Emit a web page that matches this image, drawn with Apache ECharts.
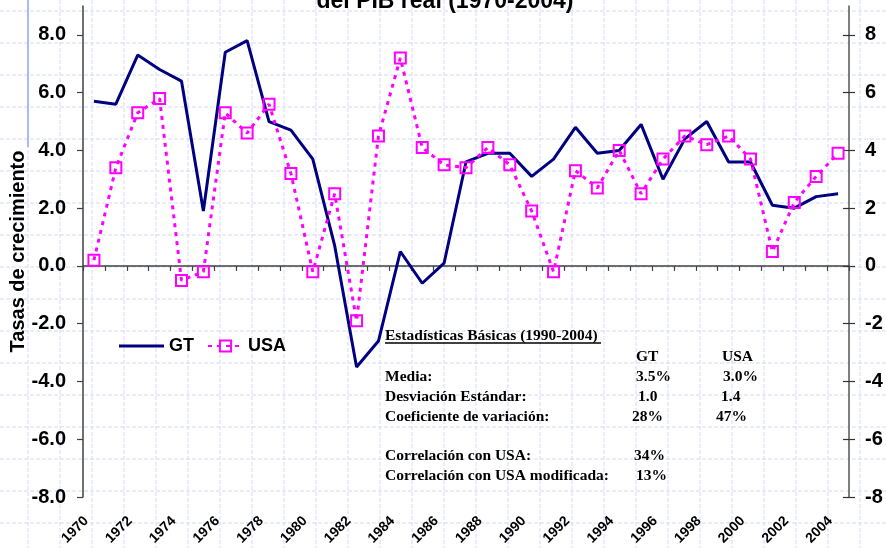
<!DOCTYPE html>
<html><head><meta charset="utf-8">
<script src="https://cdn.jsdelivr.net/npm/echarts@6/dist/echarts.min.js"></script>
<style>html,body{margin:0;padding:0;background:#fff}#c{width:886px;height:548px}</style>
</head><body><div id="c"></div>
<script>
const years = ['1970','1971','1972','1973','1974','1975','1976','1977','1978','1979','1980','1981','1982','1983','1984','1985','1986','1987','1988','1989','1990','1991','1992','1993','1994','1995','1996','1997','1998','1999','2000','2001','2002','2003','2004'];
const gt = [5.7, 5.6, 7.3, 6.8, 6.4, 1.9, 7.4, 7.8, 5.0, 4.7, 3.7, 0.7, -3.5, -2.6, 0.5, -0.6, 0.1, 3.6, 3.9, 3.9, 3.1, 3.7, 4.8, 3.9, 4.0, 4.9, 3.0, 4.4, 5.0, 3.6, 3.6, 2.1, 2.0, 2.4, 2.5];
const usa = [0.2, 3.4, 5.3, 5.8, -0.5, -0.2, 5.3, 4.6, 5.6, 3.2, -0.2, 2.5, -1.9, 4.5, 7.2, 4.1, 3.5, 3.4, 4.1, 3.5, 1.9, -0.2, 3.3, 2.7, 4.0, 2.5, 3.7, 4.5, 4.2, 4.5, 3.7, 0.5, 2.2, 3.1, 3.9];
const yTicks = [-8, -6, -4, -2, 0, 2, 4, 6, 8];
const titleText = 'del PIB real (1970-2004)';
const yName = 'Tasas de crecimiento';
const statsTitle = 'Estadísticas Básicas (1990-2004)';
const statHeaders = ['GT', 'USA'];
const statRows = ['Media:', 'Desviación Estándar:', 'Coeficiente de variación:', '', 'Correlación con USA:', 'Correlación con USA modificada:'];
const statGT = ['3.5%', '1.0', '28%', '', '34%', '13%'];
const statUSA = ['3.0%', '1.4', '47%', '', '', ''];

const W = 886, H = 548;
const graphics = [];
// graph-paper background
for (let x = 28; x <= W; x += 32) {
  graphics.push({type:'line', z:-10, silent:true, shape:{x1:x, y1:0, x2:x, y2:H}, style:{stroke:'#d3daf6', lineWidth:1, lineDash:[4,2]}});
}
for (let y = 11; y <= H; y += 32) {
  graphics.push({type:'line', z:-10, silent:true, shape:{x1:0, y1:y, x2:W, y2:y}, style:{stroke:'#d3daf6', lineWidth:1, lineDash:[4,2]}});
}
graphics.push({type:'line', z:-9, silent:true, shape:{x1:28, y1:0, x2:28, y2:147}, style:{stroke:'#a9b9f2', lineWidth:2}});
// title (second line, partly cut)
graphics.push({type:'text', z:10, x:445, y:2, style:{text:titleText, fontSize:23, fontWeight:'bold', fontFamily:'Arial, Liberation Sans', fill:'#000', align:'center', verticalAlign:'middle'}});
// stats box
const serif = {fontSize:15.5, fontWeight:'bold', fontFamily:'Times New Roman, Liberation Serif', fill:'#000', verticalAlign:'middle', align:'left'};
graphics.push({type:'text', z:10, x:385, y:336, style:Object.assign({text:statsTitle}, serif)});
graphics.push({type:'line', z:10, shape:{x1:385, y1:343, x2:601, y2:343}, style:{stroke:'#000', lineWidth:1.3}});
graphics.push({type:'text', z:10, x:636, y:356.5, style:Object.assign({text:statHeaders[0]}, serif)});
graphics.push({type:'text', z:10, x:722, y:356.5, style:Object.assign({text:statHeaders[1]}, serif)});
const gtX = [636, 638, 632, 0, 634, 636];
const usaX = [723, 721, 716, 0, 0, 0];
statRows.forEach((lab, i) => {
  const y = 377 + i * 19.8;
  if (lab) graphics.push({type:'text', z:10, x:385, y:y, style:Object.assign({text:lab}, serif)});
  if (statGT[i]) graphics.push({type:'text', z:10, x:gtX[i], y:y, style:Object.assign({text:statGT[i]}, serif)});
  if (statUSA[i]) graphics.push({type:'text', z:10, x:usaX[i], y:y, style:Object.assign({text:statUSA[i]}, serif)});
});

const bold = {fontWeight:'bold', color:'#000', fontFamily:'Arial, Liberation Sans'};
const chart = echarts.init(document.getElementById('c'), null, {renderer:'canvas'});
chart.setOption({
  animation:false,
  backgroundColor:'transparent',
  grid:{left:83, right:37, top:6, bottom:51, containLabel:false, outerBoundsMode:'none'},
  legend:[
    {data:[{name:'GT', icon:'rect'}], left:114, top:332, itemWidth:45, itemHeight:3, itemGap:0,
     textStyle:Object.assign({fontSize:18, padding:[0,0,0,0]}, bold)},
    {data:['USA'], left:202, top:332, itemWidth:35, itemHeight:14, itemGap:0, textStyle:Object.assign({fontSize:18}, bold)}
  ],
  xAxis:[
    {type:'category', data:years, boundaryGap:true, position:'bottom',
     axisLine:{show:true, onZero:true, lineStyle:{color:'#404040', width:1.5}},
     axisTick:{show:true, interval:0, length:5, lineStyle:{color:'#404040', width:1.2}},
     axisLabel:{show:false}, splitLine:{show:false}},
    {type:'category', data:years, boundaryGap:true, position:'bottom',
     axisLine:{show:false, onZero:false}, axisTick:{show:false}, splitLine:{show:false},
     axisLabel:Object.assign({interval:1, rotate:45, margin:14, fontSize:14, padding:[0,11,0,0]}, bold)}
  ],
  yAxis:[
    {type:'value', min:-8, max:9, position:'left',
     axisLine:{show:true, onZero:false, lineStyle:{color:'#404040', width:1.5}},
     axisTick:{show:true, length:6, customValues:yTicks, lineStyle:{color:'#404040', width:1.2}},
     axisLabel:Object.assign({customValues:yTicks, formatter:v => v.toFixed(1), fontSize:20, margin:17}, bold),
     splitLine:{show:false},
     name:yName, nameLocation:'middle', nameGap:55, nameMoveOverlap:false, nameTextStyle:Object.assign({fontSize:20}, bold)},
    {type:'value', min:-8, max:9, position:'right',
     axisLine:{show:true, onZero:false, lineStyle:{color:'#555', width:1.5}},
     axisTick:{show:true, length:6, customValues:yTicks, lineStyle:{color:'#333', width:1.2}},
     axisLabel:Object.assign({customValues:yTicks, formatter:v => String(v), fontSize:20, margin:16}, bold),
     splitLine:{show:false}},
    {type:'value', min:-8, max:9, position:'right',
     axisLine:{show:false, onZero:false},
     axisTick:{show:true, inside:true, length:6, customValues:yTicks, lineStyle:{color:'#333', width:1.2}},
     axisLabel:{show:false}, splitLine:{show:false}}
  ],
  series:[
    {name:'GT', type:'line', data:gt, xAxisIndex:0, yAxisIndex:0, symbol:'none',
     lineStyle:{color:'#000080', width:3}, itemStyle:{color:'#000080'}, z:3},
    {name:'USA', type:'line', data:usa, xAxisIndex:0, yAxisIndex:0, symbol:'rect', symbolSize:11,
     lineStyle:{color:'#ff00ff', width:3, type:[4,5]},
     itemStyle:{color:'rgba(255,255,255,0)', borderColor:'#ff00ff', borderWidth:2}, z:4}
  ],
  graphic:graphics
});
</script></body></html>
